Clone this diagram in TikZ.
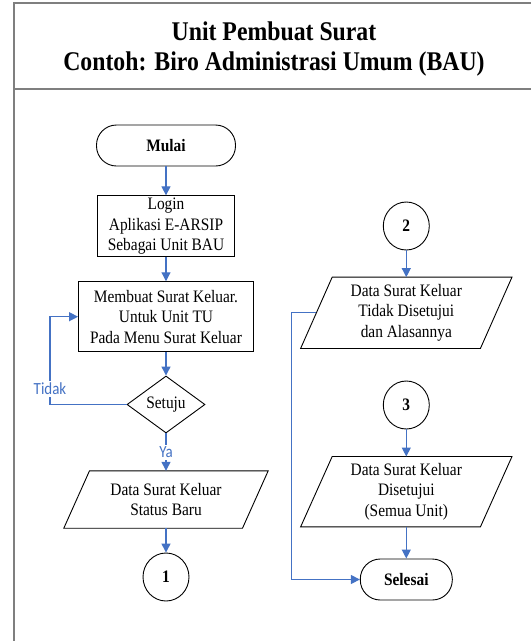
\documentclass[tikz,border=0pt]{standalone}
\usepackage{fontspec}
\setmainfont{Liberation Serif}[FakeStretch=0.88]
\newfontfamily\lblfont{Carlito}[FakeStretch=0.88]
\usetikzlibrary{shapes.geometric,arrows.meta}
\definecolor{flowblue}{HTML}{4472C4}
\definecolor{framegray}{HTML}{7F7F7F}
\newcommand{\drawpara}[2]{\draw[outline] ([xshift=#2pt]#1.north west) -- (#1.north east) -- ([xshift=-#2pt]#1.south east) -- (#1.south west) -- cycle;}
\begin{document}
\begin{tikzpicture}[x=1pt,y=-1pt,
  every node/.style={inner sep=0pt, align=center, font=\fontsize{17.5}{20.5}\selectfont},
  outline/.style={draw=black, line width=0.9pt},
  term/.style={outline, rounded corners=20pt, minimum height=41pt, font=\fontsize{17.5}{20.5}\selectfont\bfseries},
  procbox/.style={outline},
  datanode/.style={},
  decision/.style={outline, diamond, aspect=1.37},
  connector/.style={outline, ellipse, minimum width=46pt, minimum height=48pt, font=\fontsize{17.5}{20.5}\selectfont\bfseries},
  flow/.style={draw=flowblue, line width=1.2pt, -{Triangle[length=9pt,width=9pt]}},
  flowline/.style={draw=flowblue, line width=1.2pt},
  lbl/.style={fill=white, text=flowblue, inner sep=2pt, font=\lblfont\fontsize{17}{17}\selectfont},
  frameline/.style={draw=framegray, line width=1.5pt}
]
\useasboundingbox (0,0) rectangle (531,641);
% frame
\draw[frameline] (14,645) -- (14,3) -- (535,3);
\draw[frameline] (14,89) -- (535,89);
% title
\node[anchor=base, font=\fontsize{27}{30}\selectfont\bfseries] (t1) at (274,40) {Unit Pembuat Surat};
\node[anchor=base, font=\fontsize{27}{30}\selectfont\bfseries] (t2) at (274,70) {Contoh: Biro Administrasi Umum (BAU)};
% left column
\node[term, minimum width=139pt] (mulai) at (166,145.5) {Mulai};
\node[procbox, minimum width=137pt, minimum height=61pt] (login) at (166,226.3) {Login\\Aplikasi E-ARSIP\\Sebagai Unit BAU};
\node[procbox, minimum width=175pt, minimum height=70pt] (buat) at (166,316.7) {Membuat Surat Keluar.\\Untuk Unit TU\\Pada Menu Surat Keluar};
\node[decision, minimum width=78pt, minimum height=57pt] (setuju) at (166,404.5) {Setuju};
\node[datanode, minimum width=204pt, minimum height=57pt] (baru) at (166,499.5) {Data Surat Keluar\\Status Baru};
\drawpara{baru}{25.7}
\node[connector] (c1) at (166,577) {1};
% right column
\node[connector] (c2) at (406.3,226) {2};
\node[datanode, minimum width=211pt, minimum height=71pt] (tolak) at (406.3,312.8) {Data Surat Keluar\\Tidak Disetujui\\dan Alasannya};
\drawpara{tolak}{31.6}
\node[connector] (c3) at (406.3,405) {3};
\node[datanode, minimum width=211pt, minimum height=70pt] (setujui) at (406.3,491.7) {Data Surat Keluar\\Disetujui\\(Semua Unit)};
\drawpara{setujui}{31.6}
\node[term, minimum width=92pt] (selesai) at (406.3,579.5) {Selesai};
% helper x positions
\coordinate (lx) at (50,0);
\coordinate (rx) at (291.3,0);
% connectors
\draw[flow] (mulai) -- (login);
\draw[flow] (login) -- (buat);
\draw[flow] (buat) -- (setuju);
\draw[flow] (setuju.west) -- (lx |- setuju.west) -- node[lbl, pos=0.18] {Tidak} (lx |- buat.west) -- (buat.west);
\draw[flow] (setuju.south) -- node[lbl, pos=0.5] {Ya} (baru.north);
\draw[flow] (baru) -- (c1);
\draw[flow] (c2) -- (tolak);
\draw[flow] (c3) -- (setujui);
\draw[flow] (setujui) -- (selesai);
\draw[flow] ([xshift=15.8pt]tolak.west) -- (rx |- tolak.west) -- (rx |- selesai.west) -- (selesai.west);
\end{tikzpicture}
\end{document}
